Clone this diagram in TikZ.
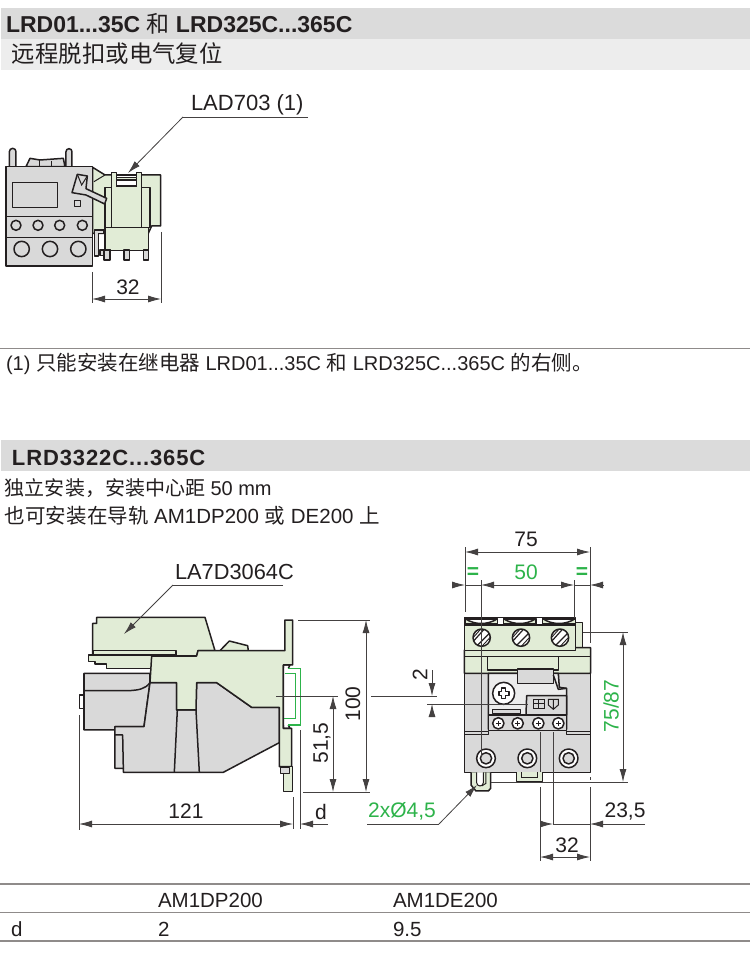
\documentclass[tikz,border=0pt]{standalone}
\usepackage{fontspec}
\setmainfont{Liberation Sans}
\newfontfamily\cjk{Noto Sans CJK SC}
\newfontfamily\spaced[LetterSpace=4]{Liberation Sans}
\usetikzlibrary{arrows.meta}
\definecolor{ink}{HTML}{231F20}
\definecolor{pgreen}{HTML}{E1ECD6}
\definecolor{pgray}{HTML}{D9D9D9}
\definecolor{dimgreen}{HTML}{2DB34A}
\definecolor{rulegray}{HTML}{8F8B8A}
\newcommand{\fs}[1]{\fontsize{#1}{#1}\selectfont}
\tikzset{
  txt/.style={inner sep=0pt,outer sep=0pt,text=ink,anchor=base west},
  dimtxt/.style={inner sep=0pt,outer sep=0pt,text=ink,font=\fs{21}},
  gtxt/.style={inner sep=0pt,outer sep=0pt,text=dimgreen,font=\fs{21}},
  dimline/.style={draw=ink!85,line width=0.8pt},
  tip/.style={-{Latex[length=13pt,width=7pt]}},
  tips/.style={{Latex[length=13pt,width=7pt]}-{Latex[length=13pt,width=7pt]}},
  ln/.style={draw=ink,line width=1.5pt,line join=round},
  thin/.style={draw=ink,line width=1pt},
  gr/.style={ln,fill=pgreen},
  gy/.style={ln,fill=pgray},
  rulel/.style={draw=rulegray,line width=1pt},
  ruleb/.style={draw=rulegray,line width=1.6pt},
}
\begin{document}
\begin{tikzpicture}[x=1pt,y=-1pt]
\useasboundingbox (0,0) rectangle (750,957);
\fill[white] (0,0) rectangle (750,957);
% bands
\fill[pgray!95!white] (1,8) rectangle (750,39);
\fill[black!7] (1,39) rectangle (750,70);
\fill[pgray!95!white] (1,440) rectangle (750,471);
% header text
\node[txt,font=\fs{23}\bfseries] (h1) at (6,33) {LRD01...35C {\cjk\mdseries 和} LRD325C...365C};
\node[txt,font=\fs{23.4}\cjk] (h2) at (12,63) {远程脱扣或电气复位};
\node[txt,font=\fs{22}\spaced\bfseries] (h3) at (12,465) {LRD3322C...365C};
\node[txt,font=\fs{20}] (note) at (6,370) {(1) {\cjk\fs{20.5}只能安装在继电器} LRD01...35C {\cjk\fs{20.5}和} LRD325C...365C {\cjk\fs{20.5}的右侧。}};
\node[txt,font=\fs{20}] (l1) at (5,495) {{\cjk\fs{20}独立安装，安装中心距} 50 mm};
\node[txt,font=\fs{20.5}] (l2) at (5,523) {{\cjk\fs{20.5}也可安装在导轨} AM1DP200 {\cjk\fs{20.5}或} DE200 {\cjk\fs{20.5}上}};
% rules
\coordinate (r1a) at (0,348); \coordinate (r1b) at (750,348);
\draw[rulel] (r1a) -- (r1b);
\coordinate (t1a) at (0,884); \coordinate (t1b) at (750,884);
\coordinate (t2a) at (0,912); \coordinate (t2b) at (750,912);
\coordinate (t3a) at (0,941); \coordinate (t3b) at (750,941);
\draw[ruleb] (t1a) -- (t1b);
\draw[rulel] (t2a) -- (t2b);
\draw[ruleb] (t3a) -- (t3b);
\node[txt,font=\fs{20.5}] (c1) at (158,907) {AM1DP200};
\node[txt,font=\fs{20.5}] (c2) at (393,907) {AM1DE200};
\node[txt,font=\fs{20.5}] (c3) at (11,936) {d};
\node[txt,font=\fs{20.5}] (c4) at (158,936) {2};
\node[txt,font=\fs{20.5}] (c5) at (393,936) {9.5};

% ===== small relay
\begin{scope}[shift={(0,90)},x=0.3333pt,y=-0.3333pt]
  \draw[gy] (28,230) -- (28,185) arc (180:360:10) -- (48,230);
  \draw[gy] (198,230) -- (198,185) arc (180:360:9) -- (216,230);
  \draw[gy] (78,230) -- (90,205) -- (120,210) -- (190,205) -- (195,230) -- cycle;
  \draw[thin] (120,210) -- (120,230) (155,212) -- (155,230);
  \draw[gr] (278,232) -- (315,255) -- (482,255) -- (482,408) -- (455,408) -- (445,430) -- (278,430) -- cycle;
  \draw[thin] (282,275) -- (315,255);
  \draw[gy] (18,230) rectangle (278,528);
  \draw[ln] (18,380) -- (278,380) (18,442) -- (278,442);
  \draw[ln,fill=pgray] (38,277) rectangle (172,352);
  \foreach \cx in {48,114,179,247} \draw[ln] (\cx,406) circle[radius=15];
  \foreach \cx in {65,150,235} \draw[ln] (\cx,477) circle[radius=23];
  \draw[gy,line width=1pt] (224,332) rectangle (242,350);
  \draw[gr] (315,293) rectangle (450,412);
  \draw[gr] (335,248) -- (350,248) -- (350,290) -- (410,290) -- (410,248) -- (425,248) -- (425,412) -- (335,412) -- cycle;
  \draw[ln,fill=white] (350,255) rectangle (410,288);
  \draw[ln,fill=pgreen] (350,262) rectangle (410,270);
  \draw[ln,fill=pgray] (216,308) -- (232,253) -- (262,258) -- (258,296) -- (320,325) -- (314,342) -- (258,315) -- cycle;
  \draw[thin] (232,253) -- (245,285) -- (262,258);
  \draw[gy] (283,420) -- (312,420) -- (312,430) -- (295,430) -- (295,498) -- (283,498) -- cycle;
  \draw[gr] (315,412) rectangle (445,482);
  \draw[gy] (300,480) rectangle (332,496);
  \foreach \cx/\w in {312/18,372/16,430/16} \draw[gy] (\cx,480) rectangle ++(\w,30);
\end{scope}
\node[txt,font=\fs{22}] (lad) at (191,111) {LAD703 (1)};
\coordinate (ladE) at (308,117); \coordinate (ladK) at (183,117); \coordinate (ladT) at (128,173);
\draw[dimline] (ladE) -- (ladK);
\draw[dimline,tip] (ladK) -- (ladT);
\coordinate (a1) at (92,272); \coordinate (a1d) at (92,303);
\coordinate (a2) at (161,232); \coordinate (a2d) at (161,303);
\draw[dimline] (a1) -- (a1d) (a2) -- (a2d);
\coordinate (a1m) at (92,299); \coordinate (a2m) at (161,299);
\draw[dimline,tips] (a1m) -- (a2m);
\node[dimtxt] (t32a) at (128,287) {32};

% ===== side view
\begin{scope}[shift={(70,600)},x=0.3333pt,y=-0.3333pt]
  \draw[gr] (450,152) -- (478,123) -- (533,137) -- (535,152);
  \draw[gr] (80,52) -- (405,52) -- (435,152) -- (384,152) -- (380,168) -- (68,165) -- (68,70) -- (80,70) -- cycle;
  \draw[gr] (70,152) -- (318,152) -- (318,165) -- (70,165) -- cycle;
  \draw[gr] (55,165) -- (245,165) -- (245,205) -- (110,205) -- (110,192) -- (75,192) -- (75,185) -- (55,185) -- cycle;
  % gray
  \draw[ln,fill=white] (28,285) rectangle (42,326);
  \draw[gy] (42,220) -- (240,220) -- (240,248) -- (222,380) -- (135,380) -- (135,390) -- (42,390) -- cycle;
  \draw[ln] (42,272) -- (178,272) .. controls (205,270) and (225,268) .. (240,248);
  \draw[gy] (135,380) -- (222,380) -- (240,248) -- (320,248) -- (320,330) -- (378,330) -- (380,248) -- (440,248) -- (545,322) -- (628,322) -- (628,428) -- (460,517) -- (160,517) -- (160,505) -- (135,505) -- cycle;
  \draw[ln] (322,330) -- (313,517) (378,330) -- (388,517);
  \draw[ln] (135,405) -- (158,405) -- (160,505);
  % green body
  \draw[gr] (645,152) -- (645,60) -- (668,60) -- (668,195) -- (640,195) -- (640,385) -- (665,385) -- (665,500) -- (628,500) -- (628,322) -- (545,322) -- (440,248) -- (380,248) -- (378,330) -- (320,330) -- (320,248) -- (240,248) -- (245,168) -- (380,168) -- (384,152) -- cycle;
  \draw[ln,fill=pgreen] (640,522) -- (640,575) -- (667,575) -- (667,500) -- (640,500);
  \draw[gy,line width=1pt] (632,503) rectangle (658,522);
  % rail
  \fill[white] (641,205) rectangle (691,375);
  \draw[ln] (640,195) -- (640,385) (640,195) -- (660,195) -- (655,205) (640,385) -- (660,385) -- (655,375);
  \draw[draw=dimgreen,line width=1.5pt] (655,205) -- (692,205) -- (692,375) -- (655,375);
  \draw[draw=dimgreen,line width=1.5pt] (645,220) -- (676,220) -- (676,355) -- (642,355);
\end{scope}

% ===== front view
\begin{scope}[shift={(400,600)},x=0.3333pt,y=-0.3333pt]
  \draw[gr] (527,68) -- (548,68) -- (548,143) -- (527,143);
  \draw[gy] (193,205) rectangle (572,517);
  \draw[gr] (193,150) -- (527,143) -- (572,143) -- (572,220) -- (193,220) -- cycle;
  \draw[ln] (193,170) -- (572,170);
  \draw[ln,fill=white] (193,52) rectangle (527,75);
  \foreach \cx in {195,310,428} {
    \draw[ln,fill=pgreen] (\cx,55) rectangle ++(98,17);
    \draw[ln,fill=white] (\cx+2,57) .. controls (\cx+30,75) and (\cx+68,75) .. (\cx+96,57) -- cycle;
  }
  \draw[gr] (193,75) rectangle (527,152);
  \foreach \cx in {245,363,480} {
    \begin{scope}
      \clip (\cx,113) circle[radius=26];
      \fill[white] (\cx,113) circle[radius=26];
      \draw[ink,line width=1.2pt] (\cx-26,125) -- (\cx+10,85) (\cx-12,135) -- (\cx+26,97);
      \draw[ink,line width=0.9pt] (\cx-32,120) -- (\cx+2,82) (\cx-2,142) -- (\cx+32,105);
    \end{scope}
    \draw[ln] (\cx,113) circle[radius=26];
  }
  \draw[ln,fill=pgreen] (262,170) -- (262,210) -- (475,210) -- (475,170);
  \draw[ln,fill=pgray!50!white] (265,220) -- (475,220) -- (478,262) -- (500,265) -- (500,388) -- (265,388) -- cycle;
  \draw[gy] (352,207) rectangle (460,250);
  \draw[ln] (460,225) -- (475,268) -- (500,265);
  \draw[ln,fill=pgray] (380,287) -- (500,287) -- (500,345) -- (378,345) -- cycle;
  \draw[ln,fill=white] (311,280) circle[radius=33];
  \draw[ln,fill=white] (297,274) -- (305,274) -- (305,264) -- (317,264) -- (317,274) -- (327,274) -- (327,286) -- (317,286) -- (317,296) -- (305,296) -- (305,286) -- (297,286) -- cycle;
  \draw[thin] (402,298) rectangle (433,326) (417,298) -- (417,326) (402,312) -- (433,312);
  \draw[thin] (445,298) -- (475,298) -- (475,315) -- (460,328) -- (445,315) -- cycle (460,298) -- (460,328);
  \draw[gy,line width=1pt] (278,330) rectangle (363,342);
  \draw[gy] (265,345) rectangle (500,392);
  \foreach \cx in {295,353,415,475} {
    \draw[ln,fill=white] (\cx,370) circle[radius=17];
    \draw[thin] (\cx-7,370) -- (\cx+7,370) (\cx,363) -- (\cx,377);
  }
  \draw[ln] (193,395) -- (265,395) -- (265,403) -- (193,403) (500,392) -- (500,403) -- (572,403) (500,395) -- (572,395);
  \foreach \cx in {258,382,506} {
    \draw[ln,fill=white] (\cx,475) circle[radius=28];
    \draw[ln,fill=pgray] (\cx,475) circle[radius=17];
  }
  \draw[gr] (350,517) -- (350,545) -- (428,545) -- (428,517);
  \draw[thin] (365,517) -- (365,533) -- (412,533) -- (412,517);
  \draw[ln,fill=pgreen] (213,517) -- (213,555) -- (228,573) -- (265,573) -- (272,565) -- (272,517);
  \draw[thin,fill=white] (230,517) -- (230,548) arc (180:0:10) -- (250,517);
  \draw[thin] (258,517) -- (258,550) -- (245,558);
\end{scope}

% ===== dimensions side view
\node[txt,font=\fs{21.8}] (la7) at (175,579) {LA7D3064C};
\coordinate (la7E) at (283,585); \coordinate (la7K) at (173,585); \coordinate (la7T) at (124,634);
\draw[dimline] (la7E) -- (la7K);
\draw[dimline,tip] (la7K) -- (la7T);

\coordinate (e100a) at (298,620); \coordinate (e100ae) at (370,620);
\coordinate (e100b) at (303,792); \coordinate (e100be) at (370,792);
\draw[dimline] (e100a) -- (e100ae) (e100b) -- (e100be);
\coordinate (d100a) at (366,620); \coordinate (d100b) at (366,792);
\draw[dimline,tips] (d100a) -- (d100b);
\node[dimtxt,rotate=90] (t100) at (353,704) {100};
\coordinate (d51a) at (333,696); \coordinate (d51b) at (333,792);
\draw[dimline,tips] (d51a) -- (d51b);
\node[dimtxt,rotate=90] (t51) at (322,743) {51,5};
\coordinate (cl1a) at (276,696); \coordinate (cl1b) at (338,696);
\coordinate (cl2a) at (371,696); \coordinate (cl2b) at (437,696);
\draw[dimline] (cl1a) -- (cl1b) (cl2a) -- (cl2b);
\coordinate (cl3a) at (427,704); \coordinate (cl3b) at (528,704);
\draw[dimline] (cl3a) -- (cl3b);
\coordinate (d2a) at (432,670); \coordinate (d2at) at (432,696);
\coordinate (d2b) at (432,716); \coordinate (d2bt) at (432,704);
\draw[dimline,tip] (d2a) -- (d2at);
\draw[dimline,tip] (d2b) -- (d2bt);
\node[dimtxt,rotate=90] (t2) at (420,675) {2};
\coordinate (e121a) at (79,715); \coordinate (e121b) at (79,830);
\draw[dimline] (e121a) -- (e121b);
\coordinate (e293a) at (293,797); \coordinate (e293b) at (293,829);
\coordinate (e300a) at (300,730); \coordinate (e300b) at (300,829);
\draw[dimline] (e293a) -- (e293b) (e300a) -- (e300b);
\coordinate (d121a) at (79,824); \coordinate (d121b) at (293,824);
\draw[dimline,tips] (d121a) -- (d121b);
\coordinate (ddr) at (328,824); \coordinate (ddt) at (300,824);
\draw[dimline,tip] (ddr) -- (ddt);
\node[dimtxt] (t121) at (186,811) {121};
\node[dimtxt] (td) at (321,812) {d};

% ===== dimensions front view
\coordinate (e1a) at (465,547); \coordinate (e1b) at (465,612);
\coordinate (e2a) at (590,547); \coordinate (e2b) at (590,643);
\coordinate (e3a) at (481,580); \coordinate (e3b) at (481,757);
\coordinate (e4a) at (574,580); \coordinate (e4b) at (574,618);
\draw[dimline] (e1a) -- (e1b) (e2a) -- (e2b) (e3a) -- (e3b) (e4a) -- (e4b);
\coordinate (d75a) at (465,552); \coordinate (d75b) at (590,552);
\draw[dimline,tips] (d75a) -- (d75b);
\node[dimtxt] (t75) at (526,539) {75};
\coordinate (d50a) at (481,585); \coordinate (d50b) at (574,585);
\draw[dimline,tips] (d50a) -- (d50b);
\node[gtxt] (t50) at (526,572) {50};
\coordinate (m1) at (452,585); \coordinate (m2) at (465,585);
\draw[dimline,tip] (m1) -- (m2);
\coordinate (m3) at (603,585); \coordinate (m4) at (590,585);
\draw[dimline,tip] (m3) -- (m4);
\draw[dimline] (m2) -- (d50a) (d50b) -- (m4);
\node[gtxt,font=\fs{21}\bfseries] (eq1) at (473,573) {=};
\node[gtxt,font=\fs{21}\bfseries] (eq2) at (582,573) {=};
\coordinate (e75a) at (583,632); \coordinate (e75ae) at (628,632);
\coordinate (e75b) at (491,782); \coordinate (e75be) at (628,782);
\draw[dimline] (e75a) -- (e75ae) (e75b) -- (e75be);
\coordinate (d75va) at (623,632); \coordinate (d75vb) at (623,782);
\draw[dimline,tips] (d75va) -- (d75vb);
\node[gtxt,rotate=90] (t7587) at (611,706) {75/87};
\coordinate (v540a) at (540,732); \coordinate (v540b) at (540,772);
\coordinate (v540c) at (540,787); \coordinate (v540d) at (540,861);
\coordinate (v553a) at (553,732); \coordinate (v553b) at (553,824);
\coordinate (v590a) at (590,777); \coordinate (v590b) at (590,780);
\coordinate (v590c) at (590,787); \coordinate (v590d) at (590,861);
\draw[dimline] (v540a) -- (v540b) (v540c) -- (v540d) (v553a) -- (v553b) (v590a) -- (v590b) (v590c) -- (v590d);
\coordinate (h23a) at (540,824); \coordinate (h23t) at (553,824);
\coordinate (h23b) at (645,824); \coordinate (h23u) at (590,824);
\draw[dimline,tip] (h23a) -- (h23t);
\draw[dimline,tip] (h23b) -- (h23u);
\draw[dimline] (h23t) -- (h23u);
\node[dimtxt] (t235) at (625,812) {23,5};
\coordinate (d32a) at (540,857); \coordinate (d32b) at (590,857);
\draw[dimline,tips] (d32a) -- (d32b);
\node[dimtxt] (t32b) at (567,845) {32};
\node[gtxt] (thole) at (402,811) {2x\O{}4,5};
\coordinate (hE) at (367,824); \coordinate (hK) at (439,824); \coordinate (hT) at (477,785);
\draw[dimline] (hE) -- (hK);
\draw[dimline,tip] (hK) -- (hT);
\end{tikzpicture}
\end{document}
